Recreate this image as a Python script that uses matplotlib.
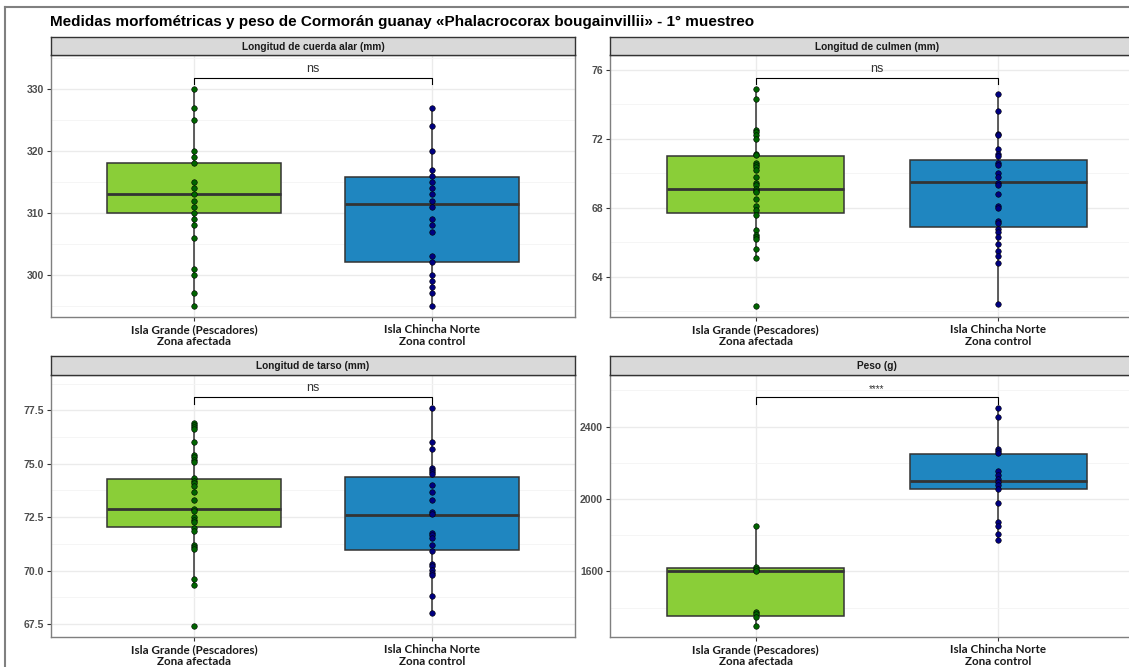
#!/usr/bin/env python3
import matplotlib
matplotlib.use("Agg")
import matplotlib.pyplot as plt
from matplotlib.lines import Line2D

W, H = 1129, 667

title = "Medidas morfométricas y peso de Cormorán guanay «Phalacrocorax bougainvillii» - 1° muestreo"
groups = ["Isla Grande (Pescadores)\nZona afectada", "Isla Chincha Norte\nZona control"]
panel_titles = ["Longitud de cuerda alar (mm)", "Longitud de culmen (mm)",
                "Longitud de tarso (mm)", "Peso (g)"]
signif = ["ns", "ns", "ns", "****"]

# points per panel (afectada, control)
alar_a = [330, 327, 325, 320, 319, 318, 315, 314, 313, 312, 311, 310, 309, 308, 306, 301, 300, 297, 295]
alar_b = [327, 324, 320, 317, 316, 315, 314, 313, 312, 311, 309, 308, 307, 303, 302, 300, 299, 298, 297, 295]
culmen_a = [74.9, 74.3, 72.5, 72.4, 72.25, 72.0, 71.1, 71.05, 70.6, 70.5, 70.35, 70.2, 69.8, 69.45, 69.3,
            69.1, 69.0, 68.9, 68.5, 68.1, 67.9, 67.6, 66.7, 66.45, 66.3, 66.2, 65.6, 65.1, 62.3]
culmen_b = [74.6, 73.6, 72.3, 72.2, 71.4, 71.1, 71.0, 70.6, 70.5, 70.0, 69.8, 69.45, 69.3, 68.8, 68.1,
            68.0, 67.25, 67.15, 66.8, 66.6, 66.3, 65.9, 65.5, 65.2, 64.8, 62.4]
tarso_a = [76.92, 76.83, 76.73, 76.6, 76.0, 75.42, 75.32, 75.16, 75.1, 74.32, 74.2, 74.1, 73.97, 73.69,
           73.28, 72.9, 72.78, 72.5, 72.37, 72.25, 72.0, 71.87, 71.21, 71.09, 71.0, 69.62, 69.3, 67.41]
tarso_b = [77.6, 76.0, 75.7, 74.82, 74.72, 74.63, 74.5, 74.0, 73.69, 73.28, 72.72, 72.63, 71.75, 71.65,
           71.5, 71.21, 70.9, 70.31, 70.21, 70.02, 69.9, 69.8, 68.8, 68.02]
peso_a = [1848, 1626, 1615, 1600, 1374, 1363, 1348, 1298]
peso_b = [2504, 2452, 2278, 2267, 2252, 2152, 2130, 2111, 2096, 2078, 2054, 1980, 1874, 1848, 1804, 1774]

# box stats: (whislo, q1, med, q3, whishi)
alar_box = [(295, 310, 313, 318, 330), (295, 302, 311.5, 315.8, 327)]
culmen_box = [(65.1, 67.7, 69.1, 71.0, 74.9), (62.4, 66.9, 69.5, 70.8, 74.6)]
tarso_box = [(69.3, 72.05, 72.9, 74.28, 76.92), (68.0, 70.98, 72.6, 74.38, 77.6)]
peso_box = [(1298, 1355, 1600, 1618, 1848), (1774, 2057, 2100, 2250, 2504)]

bracket_y = [331.8, 75.54, 78.1, 2561]
ylims = [(293.2, 335.5), (61.67, 76.87), (66.89, 79.15), (1237, 2685)]
yticks = [[300, 310, 320, 330], [64, 68, 72, 76], [67.5, 70, 72.5, 75, 77.5], [1600, 2000, 2400]]
ytick_fmt = ["{:.0f}", "{:.0f}", "{:.1f}", "{:.0f}"]

points = [(alar_a, alar_b), (culmen_a, culmen_b), (tarso_a, tarso_b), (peso_a, peso_b)]
boxes = [alar_box, culmen_box, tarso_box, peso_box]

fills = ["#8ACE38", "#1F86C0"]
pt_colors = ["#006400", "#000080"]

# panel rectangles in pixels: x0, x1, y_top(strip), y_strip_bottom, y_bottom
# right column runs past the image edge (cropped in the original)
rects = [(51, 575, 37, 55, 317), (610, 1144, 37, 55, 317),
         (51, 575, 356, 375, 637), (610, 1144, 356, 375, 637)]

fig = plt.figure(figsize=(W / 100, H / 100), dpi=100)
fig.patch.set_facecolor("white")

# outer border
fig.add_artist(Line2D([5 / W, 5 / W], [0, 1 - 7 / H], color="#808080", lw=1.5))
fig.add_artist(Line2D([5 / W, 1], [1 - 7 / H, 1 - 7 / H], color="#808080", lw=1.5))

fig.text(50 / W, 1 - 22 / H, title, fontsize=11, fontweight="bold", family="Liberation Sans",
         va="center", ha="left")

for i in range(4):
    x0, x1, yt, ys, yb = rects[i]
    ax = fig.add_axes([x0 / W, 1 - yb / H, (x1 - x0) / W, (yb - ys) / H])
    sax = fig.add_axes([x0 / W, 1 - ys / H, (x1 - x0) / W, (ys - yt) / H])
    sax.set_facecolor("#D9D9D9")
    sax.set_xticks([])
    sax.set_yticks([])
    for s in sax.spines.values():
        s.set_color("#333333")
        s.set_linewidth(1.0)
    sax.text(0.5, 0.45, panel_titles[i], transform=sax.transAxes, ha="center", va="center",
             fontsize=7.3, fontweight="bold", color="#1A1A1A", family="Liberation Sans")

    lo, hi = ylims[i]
    ax.set_xlim(0.4, 2.6)
    ax.set_ylim(lo, hi)
    maj = yticks[i]
    step = maj[1] - maj[0]
    minor = [maj[0] - step / 2] + [t + step / 2 for t in maj]
    ax.set_yticks(maj)
    ax.set_yticks([m for m in minor if lo < m < hi], minor=True)
    ax.set_yticklabels([ytick_fmt[i].format(t) for t in maj])
    ax.tick_params(axis="y", which="minor", length=0)
    ax.grid(True, which="major", color="#EBEBEB", lw=1.0, zorder=0)
    ax.grid(True, which="minor", axis="y", color="#F4F4F4", lw=0.6, zorder=0)
    ax.set_axisbelow(True)

    stats = []
    for (wl, q1, med, q3, wh) in boxes[i]:
        stats.append(dict(whislo=wl, q1=q1, med=med, q3=q3, whishi=wh, fliers=[]))
    bp = ax.bxp(stats, positions=[1, 2], widths=0.73, patch_artist=True, showcaps=False,
                boxprops=dict(edgecolor="#333333", lw=1.1),
                whiskerprops=dict(color="#333333", lw=1.1),
                medianprops=dict(color="#333333", lw=2.0))
    for patch, c in zip(bp["boxes"], fills):
        patch.set_facecolor(c)

    for k in range(2):
        vals = points[i][k]
        ax.scatter([k + 1] * len(vals), vals, s=16, color=pt_colors[k], edgecolor="black",
                   linewidth=0.4, zorder=3)

    # significance bracket
    by = bracket_y[i]
    tip = (hi - lo) * 0.025
    ax.plot([1, 1, 2, 2], [by - tip, by, by, by - tip], color="black", lw=0.8, zorder=4)
    if signif[i] == "ns":
        ax.text(1.5, by + (hi - lo) * 0.012, "ns", ha="center", va="bottom", fontsize=9,
                color="#333333", family="Liberation Sans")
    else:
        ax.text(1.5, by + (hi - lo) * 0.012, signif[i], ha="center", va="bottom", fontsize=7,
                color="#333333", family="Liberation Sans")

    ax.set_xticks([1, 2])
    ax.set_xticklabels(groups, fontsize=8.4, fontweight="bold", family="Lato", color="#1A1A1A",
                       linespacing=1.1)
    for lab in ax.get_yticklabels():
        lab.set_fontsize(7.5)
        lab.set_fontweight("bold")
        lab.set_color("#4D4D4D")
        lab.set_family("Liberation Sans")
    ax.tick_params(axis="both", which="major", length=3, width=0.8, color="#333333", pad=2)
    for s in ax.spines.values():
        s.set_color("#7F7F7F")
        s.set_linewidth(1.0)

fig.savefig("out.png", dpi=100)
